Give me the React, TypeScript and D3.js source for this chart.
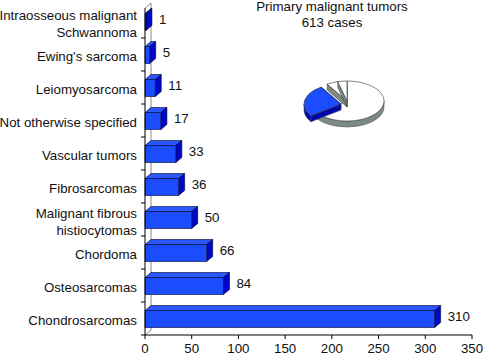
import React from 'react';
import * as d3 from 'd3';

// bar data, top to bottom
const categories = [
  ['Intraosseous malignant', 'Schwannoma'],
  ["Ewing's sarcoma"],
  ['Leiomyosarcoma'],
  ['Not otherwise specified'],
  ['Vascular tumors'],
  ['Fibrosarcomas'],
  ['Malignant fibrous', 'histiocytomas'],
  ['Chordoma'],
  ['Osteosarcomas'],
  ['Chondrosarcomas'],
];
const cases = [1, 5, 11, 17, 33, 36, 50, 66, 84, 310];
const xTicks = [0, 50, 100, 150, 200, 250, 300, 350];

// inset pie (share in %, clockwise from 12 o'clock)
const pieValues = [65, 26, 5, 4];
const pieHighlight = [false, true, false, false];

const titleLines = ['Primary malignant tumors', '613 cases'];

const W = 483;
const H = 354;
const FONT = '"Liberation Sans", Arial, Helvetica, sans-serif';

const BAR_FRONT = '#1b4dff';
const BAR_TOP = '#2a58ff';
const BAR_SIDE = '#0008c8';
const EDGE = '#00002a';

const App: React.FC = () => {
  const x = d3.scaleLinear().domain([0, 350]).range([145, 472]);
  const keys = categories.map((c) => c.join(' '));
  const y = d3.scaleBand<string>().domain(keys).range([5, 335]);
  const step = y.step();
  const dx = 6;
  const dy = 5;
  const barH = 17;
  const x0 = x(0);
  const axisY = 335;

  // pie geometry
  const cx = 347;
  const cy = 101;
  const rx = 37;
  const ry = 20;
  const depth = 6;
  const arcs = d3.pie<number>().sort(null).startAngle(0).endAngle(2 * Math.PI)(pieValues);
  const pt = (a: number, ox = 0, oy = 0, down = 0): [number, number] => [
    cx + ox + rx * Math.sin(a),
    cy + oy - ry * Math.cos(a) + down,
  ];
  const f = (p: [number, number]) => `${p[0].toFixed(2)},${p[1].toFixed(2)}`;

  const topPath = (a0: number, a1: number, ox: number, oy: number) => {
    const large = a1 - a0 > Math.PI ? 1 : 0;
    return `M${cx + ox},${cy + oy}L${f(pt(a0, ox, oy))}A${rx},${ry} 0 ${large} 1 ${f(pt(a1, ox, oy))}Z`;
  };
  const wallPath = (a0: number, a1: number, ox: number, oy: number) => {
    // only the front half (90..270 deg) shows
    const s = Math.max(a0, Math.PI / 2);
    const e = Math.min(a1, (3 * Math.PI) / 2);
    if (e <= s) return null;
    const large = e - s > Math.PI ? 1 : 0;
    return `M${f(pt(s, ox, oy))}A${rx},${ry} 0 ${large} 1 ${f(pt(e, ox, oy))}L${f(pt(e, ox, oy, depth))}A${rx},${ry} 0 ${large} 0 ${f(pt(s, ox, oy, depth))}Z`;
  };
  const facePath = (a: number, ox: number, oy: number) =>
    `M${cx + ox},${cy + oy}L${f(pt(a, ox, oy))}L${f(pt(a, ox, oy, depth))}L${cx + ox},${cy + oy + depth}Z`;

  const pieSlices = arcs.map((a, i) => {
    const hi = pieHighlight[i];
    const ox = hi ? -6 : 0;
    const oy = hi ? 3 : 0;
    const wall = hi ? '#0008b0' : '#7c8a82';
    const top = hi ? '#1b4dff' : '#ffffff';
    const wp = wallPath(a.startAngle, a.endAngle, ox, oy);
    return (
      <g key={i}>
        <path d={facePath(a.startAngle, ox, oy)} fill={wall} stroke="#3a423e" strokeWidth={0.5} />
        <path d={facePath(a.endAngle, ox, oy)} fill={wall} stroke="#3a423e" strokeWidth={0.5} />
        {wp && <path d={wp} fill={wall} stroke="#3a423e" strokeWidth={0.5} />}
        <path d={topPath(a.startAngle, a.endAngle, ox, oy)} fill={top} stroke="#333" strokeWidth={0.6} />
      </g>
    );
  });
  // highlighted slice last so it sits in front
  const pieOrder = [
    ...pieSlices.filter((_, i) => !pieHighlight[i]),
    ...pieSlices.filter((_, i) => pieHighlight[i]),
  ];

  const boundaries = d3.range(keys.length + 1).map((i) => 5 + i * step);

  return (
    <svg
      width={W}
      height={H}
      style={{ position: 'absolute', left: 0, top: 0, background: '#fff' }}
      fontFamily={FONT}
      fontSize={13.3}
    >
      {/* title */}
      {titleLines.map((t, i) => (
        <text key={t} x={332} y={11 + i * 16} textAnchor="middle" fill="#111">
          {t}
        </text>
      ))}

      {/* back wall */}
      <g stroke="#8a8a8a" strokeWidth={1} fill="none">
        <line x1={x0 + dx} y1={3} x2={x0 + dx} y2={axisY - dy} />
        <line x1={x0} y1={8} x2={x0 + dx} y2={3} />
        <line x1={x0} y1={axisY} x2={x0 + dx} y2={axisY - dy} />
      </g>

      {/* bars */}
      {keys.map((k, i) => {
        const yc = (y(k) ?? 0) + step / 2 + 0.5;
        const top = yc - barH / 2;
        const x1 = x(cases[i]);
        return (
          <g key={k} stroke={EDGE} strokeWidth={0.6} strokeLinejoin="round">
            <polygon
              points={`${x0},${top} ${x0 + dx},${top - dy} ${x1 + dx},${top - dy} ${x1},${top}`}
              fill={BAR_TOP}
            />
            <polygon
              points={`${x1},${top} ${x1 + dx},${top - dy} ${x1 + dx},${top + barH - dy} ${x1},${top + barH}`}
              fill={BAR_SIDE}
            />
            <rect x={x0} y={top} width={x1 - x0} height={barH} fill={BAR_FRONT} />
          </g>
        );
      })}

      {/* value labels */}
      {keys.map((k, i) => {
        const yc = (y(k) ?? 0) + step / 2;
        return (
          <text key={k} x={x(cases[i]) + dx + 7} y={yc + 2} fill="#111">
            {cases[i]}
          </text>
        );
      })}

      {/* category labels */}
      {categories.map((lines, i) => {
        const yc = (y(keys[i]) ?? 0) + step / 2 + 2;
        const lh = 17;
        const first = yc + 4.6 - ((lines.length - 1) * lh) / 2;
        return (
          <text key={keys[i]} textAnchor="end" fill="#111">
            {lines.map((l, j) => (
              <tspan key={l} x={137} y={first + j * lh}>
                {l}
              </tspan>
            ))}
          </text>
        );
      })}

      {/* axes */}
      <g stroke="#000" strokeWidth={1}>
        <line x1={x0} y1={8} x2={x0} y2={axisY} />
        {boundaries.slice(1, -1).map((b) => (
          <line key={b} x1={x0 - 4} y1={b} x2={x0} y2={b} />
        ))}
        <line x1={x0 - 4} y1={axisY} x2={x(350)} y2={axisY} />
        {xTicks.map((t) => (
          <line key={t} x1={x(t)} y1={axisY} x2={x(t)} y2={axisY + 4} />
        ))}
      </g>
      {xTicks.map((t) => (
        <text key={t} x={x(t)} y={352.5} textAnchor="middle" fill="#111">
          {t}
        </text>
      ))}

      {/* inset pie */}
      {pieOrder}
    </svg>
  );
};

export default App;
